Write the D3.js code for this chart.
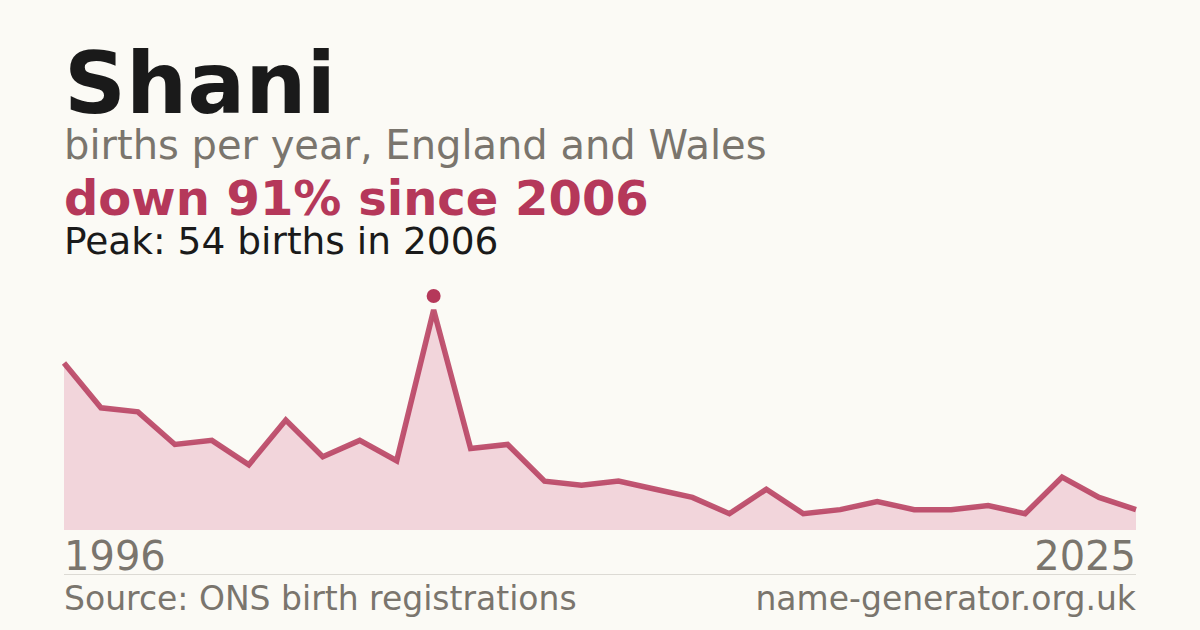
<!DOCTYPE html>
<html>
<head>
<meta charset="utf-8">
<script src="https://cdn.jsdelivr.net/npm/d3@7"></script>
<style>
  html, body { margin: 0; padding: 0; background: #fbfaf5; }
  svg { display: block; }
</style>
</head>
<body>
<svg id="chart" width="1200" height="630"></svg>
<script>
const years = d3.range(1996, 2026);
const births = [41, 30, 29, 21, 22, 16, 27, 18, 22, 17, 54, 20, 21, 12, 11, 12, 10, 8, 4, 10, 4, 5, 7, 5, 5, 6, 4, 13, 8, 5];
const titleText = "Shani";
const subtitleText = "births per year, England and Wales";
const changeText = "down 91% since 2006";
const peakText = "Peak: 54 births in 2006";
const startLabel = "1996";
const endLabel = "2025";
const sourceText = "Source: ONS birth registrations";
const siteText = "name-generator.org.uk";

const data = years.map((y, i) => ({ year: y, value: births[i] }));
const svg = d3.select("#chart");
const font = "'DejaVu Sans', sans-serif";
const red = "#b5385a";
const gray = "#7a756d";

svg.append("rect").attr("width", 1200).attr("height", 630).attr("fill", "#fbfaf5");

const x = d3.scaleLinear().domain([1996, 2025]).range([64, 1136]);
const y = d3.scaleLinear().domain([0, 54]).range([530, 310]);

const area = d3.area().x(d => x(d.year)).y0(y(0)).y1(d => y(d.value));
const line = d3.line().x(d => x(d.year)).y(d => y(d.value));

svg.append("path").datum(data).attr("d", area).attr("fill", "#f2d5db");
svg.append("path").datum(data).attr("d", line)
  .attr("fill", "none").attr("stroke", red).attr("stroke-width", 5.5)
  .attr("stroke-opacity", 0.85).attr("stroke-linejoin", "miter");

const peak = data.reduce((a, b) => (b.value > a.value ? b : a));
svg.append("circle").attr("cx", x(peak.year)).attr("cy", y(peak.value) - 14)
  .attr("r", 7).attr("fill", red);

const t = (txt, xx, yy, size, weight, fill, anchor) =>
  svg.append("text").text(txt).attr("x", xx).attr("y", yy)
    .attr("font-family", font).attr("font-size", size)
    .attr("font-weight", weight).attr("fill", fill)
    .attr("text-anchor", anchor || "start");

t(titleText, 64, 113, 86, "bold", "#1a1a1a");
t(subtitleText, 64, 159, 40, "normal", gray);
t(changeText, 64, 215, 48, "bold", red);
t(peakText, 64, 254, 37.5, "normal", "#1a1a1a");

t(startLabel, 64, 570, 40, "normal", gray);
t(endLabel, 1136, 570, 40, "normal", gray, "end");

svg.append("line").attr("x1", 64).attr("x2", 1136).attr("y1", 574.5).attr("y2", 574.5)
  .attr("stroke", "#dcdad4").attr("stroke-width", 1);

t(sourceText, 64, 610, 33, "normal", gray);
t(siteText, 1136, 610, 33, "normal", gray, "end");
</script>
</body>
</html>
